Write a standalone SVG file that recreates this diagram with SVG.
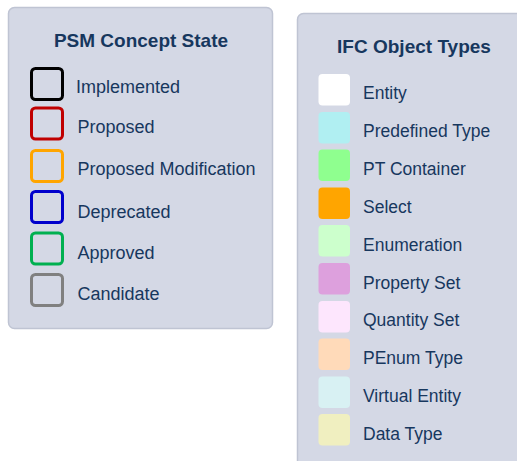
<svg xmlns="http://www.w3.org/2000/svg" width="517" height="461" viewBox="0 0 517 461">
<style>
.panel{fill:#d4d8e5;stroke:#bfc4d3;stroke-width:1.5}
.title{font-family:"Liberation Sans",Arial,sans-serif;font-weight:bold;font-size:19px;fill:#17375e;text-anchor:middle}
.lbl{font-family:"Liberation Sans",Arial,sans-serif;font-size:18px;fill:#17375e}
.lbr{font-family:"Liberation Sans",Arial,sans-serif;font-size:17.5px;fill:#17375e}
.st{fill:none;stroke-width:3}
.sw{stroke:none}
</style>
<rect width="517" height="461" fill="#ffffff"/>
<g id="psm-legend">
<rect class="panel" x="8.5" y="7.5" width="264" height="321" rx="6"/>
<text class="title" x="141" y="47">PSM Concept State</text>
<g id="implemented"><rect class="st" x="31.5" y="68.5" width="31" height="31" rx="4" stroke="#000000" stroke-width="2"/><text class="lbl" x="76" y="93">Implemented</text></g>
<g id="proposed"><rect class="st" x="31.5" y="108" width="31" height="31" rx="4" stroke="#c00000"/><text class="lbl" x="77.5" y="133">Proposed</text></g>
<g id="proposed-modification"><rect class="st" x="31.5" y="150.5" width="31" height="31" rx="4" stroke="#ffa500"/><text class="lbl" x="77.5" y="175">Proposed Modification</text></g>
<g id="deprecated"><rect class="st" x="31.5" y="191.5" width="31" height="31" rx="4" stroke="#0000cc"/><text class="lbl" x="77.5" y="217.5">Deprecated</text></g>
<g id="approved"><rect class="st" x="31.5" y="233" width="31" height="31" rx="4" stroke="#00b050"/><text class="lbl" x="77.5" y="258.5">Approved</text></g>
<g id="candidate"><rect class="st" x="31.5" y="274.5" width="31" height="31" rx="4" stroke="#808080"/><text class="lbl" x="77.5" y="299.5">Candidate</text></g>
</g>
<g id="ifc-legend">
<rect class="panel" x="297.5" y="13.5" width="240" height="470" rx="6"/>
<text class="title" x="414" y="53">IFC Object Types</text>
<g id="entity"><rect class="sw" x="318.5" y="74" width="31.5" height="31.5" rx="4" fill="#ffffff"/><text class="lbr" x="363" y="99">Entity</text></g>
<g id="predefined-type"><rect class="sw" x="318.5" y="112" width="31.5" height="31.5" rx="4" fill="#b0eff2"/><text class="lbr" x="363" y="137">Predefined Type</text></g>
<g id="pt-container"><rect class="sw" x="318.5" y="149.5" width="31.5" height="31.5" rx="4" fill="#8fff8f"/><text class="lbr" x="363" y="175">PT Container</text></g>
<g id="select"><rect class="sw" x="318.5" y="187.5" width="31.5" height="31.5" rx="4" fill="#ffa500"/><text class="lbr" x="363" y="212.7">Select</text></g>
<g id="enumeration"><rect class="sw" x="318.5" y="225" width="31.5" height="31.5" rx="4" fill="#ccffcc"/><text class="lbr" x="363" y="250.7">Enumeration</text></g>
<g id="property-set"><rect class="sw" x="318.5" y="263" width="31.5" height="31.5" rx="4" fill="#dda0dd"/><text class="lbr" x="363" y="288.5">Property Set</text></g>
<g id="quantity-set"><rect class="sw" x="318.5" y="301" width="31.5" height="31.5" rx="4" fill="#fde6fd"/><text class="lbr" x="363" y="326">Quantity Set</text></g>
<g id="penum-type"><rect class="sw" x="318.5" y="338.5" width="31.5" height="31.5" rx="4" fill="#ffdab9"/><text class="lbr" x="363" y="363.5">PEnum Type</text></g>
<g id="virtual-entity"><rect class="sw" x="318.5" y="376.5" width="31.5" height="31.5" rx="4" fill="#d8f1f3"/><text class="lbr" x="363" y="401.5">Virtual Entity</text></g>
<g id="data-type"><rect class="sw" x="318.5" y="414" width="31.5" height="31.5" rx="4" fill="#f0efc0"/><text class="lbr" x="363" y="439.5">Data Type</text></g>
</g>
<g id="connectors"/>
</svg>
